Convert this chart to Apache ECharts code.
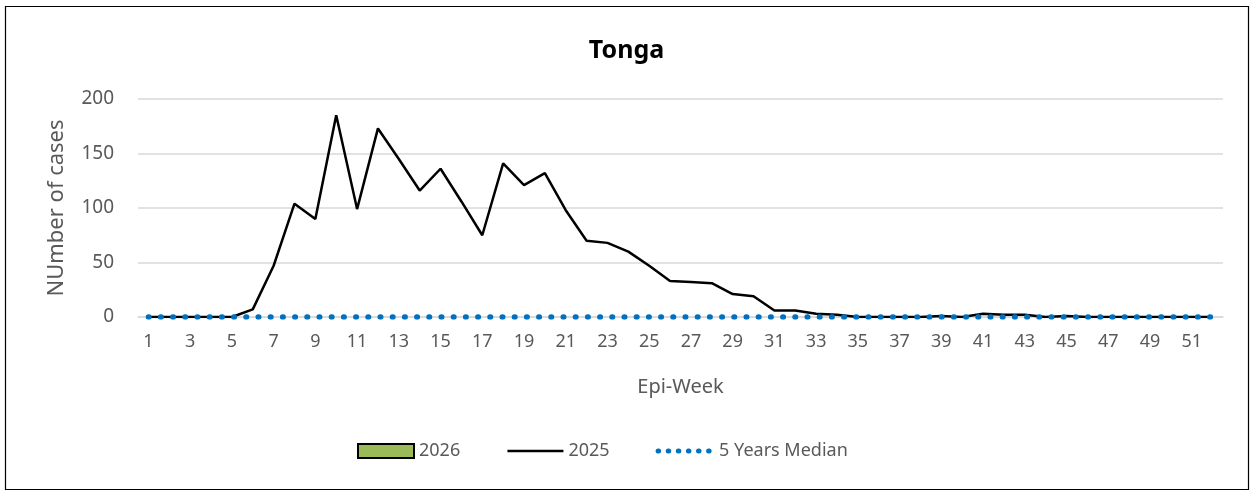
<!DOCTYPE html>
<html>
<head>
<meta charset="utf-8">
<script src="https://cdn.jsdelivr.net/npm/echarts@6/dist/echarts.min.js"></script>
<style>
html, body { margin: 0; padding: 0; background: #fff; }
#main { width: 1253px; height: 495px; }
</style>
</head>
<body>
<div id="main"></div>
<script>
// epi weeks 1..52
var weeks = [];
for (var w = 1; w <= 52; w++) weeks.push(String(w));

var cases2026 = [];
var cases2025 = [0, 0, 0, 0, 0, 7, 47, 104, 90, 185,
	99, 173, 145, 116, 136, 106, 75, 141, 121, 132,
	98, 70, 68, 60, 47, 33, 32, 31, 21, 19,
	6, 6, 3, 2, 0, 0, 0, 0, 1, 0,
	3, 2, 2, 0, 1, 0, 0, 0, 0, 0,
	0, 0];
var median5y = [0, 0, 0, 0, 0, 0, 0, 0, 0, 0,
	0, 0, 0, 0, 0, 0, 0, 0, 0, 0,
	0, 0, 0, 0, 0, 0, 0, 0, 0, 0,
	0, 0, 0, 0, 0, 0, 0, 0, 0, 0,
	0, 0, 0, 0, 0, 0, 0, 0, 0, 0,
	0, 0];

var font = 'Noto Sans';
var grey = '#595959';

var myChart = echarts.init(document.getElementById('main'));
var option = {
	backgroundColor: '#fff',
	animation: false,
	title: {
		text: 'Tonga',
		left: 'center',
		top: 33,
		textStyle: { fontFamily: font, fontSize: 25, fontWeight: 'bold', color: '#000' }
	},
	graphic: [{
		type: 'rect',
		shape: { x: 5.5, y: 6.5, width: 1243, height: 483 },
		style: { fill: 'none', stroke: '#000', lineWidth: 1.2 },
		silent: true
	}],
	legend: {
		left: 357,
		top: 442,
		padding: 0,
		itemWidth: 56,
		itemHeight: 14,
		itemGap: 46,
		textStyle: { fontFamily: font, fontSize: 18, color: grey },
		data: [
			{ name: '2026', icon: 'rect' },
			{
				name: '2025',
				itemStyle: { color: 'rgba(0,0,0,0)', borderWidth: 0 },
				lineStyle: { width: 2.5 }
			},
			{
				name: '5 Years Median',
				itemStyle: { color: 'rgba(0,0,0,0)', borderWidth: 0 },
				lineStyle: { width: 5, type: [0.5, 9.6], cap: 'round' }
			}
		]
	},
	grid: { left: 138, right: 30, top: 99, bottom: 178 },
	xAxis: {
		type: 'category',
		data: weeks,
		name: 'Epi-Week',
		nameLocation: 'middle',
		nameGap: 60,
		nameTextStyle: { fontFamily: font, fontSize: 20, color: grey },
		axisLine: { lineStyle: { color: '#d9d9d9', width: 1.5 } },
		axisTick: { show: false },
		axisLabel: { interval: 1, margin: 16, fontFamily: font, fontSize: 18, color: grey }
	},
	yAxis: {
		type: 'value',
		min: 0,
		max: 200,
		interval: 50,
		name: 'NUmber of cases',
		nameLocation: 'middle',
		nameGap: 70,
		nameTextStyle: { fontFamily: font, fontSize: 22, color: grey },
		axisLine: { show: false },
		axisTick: { show: false },
		axisLabel: { margin: 24, fontFamily: font, fontSize: 19, color: grey },
		splitLine: { lineStyle: { color: '#d9d9d9', width: 1.5 } }
	},
	series: [
		{
			name: '2026',
			type: 'bar',
			data: cases2026,
			itemStyle: { color: '#9bbb59', borderColor: '#000', borderWidth: 1.5 }
		},
		{
			name: '2025',
			type: 'line',
			data: cases2025,
			symbol: 'none',
			itemStyle: { color: '#000' },
			lineStyle: { color: '#000', width: 2.5 }
		},
		{
			name: '5 Years Median',
			type: 'line',
			data: median5y,
			symbol: 'none',
			itemStyle: { color: '#0070c0' },
			lineStyle: { color: '#0070c0', width: 5.5, type: [0.5, 11.7], cap: 'round' }
		}
	]
};
myChart.setOption(option);
</script>
</body>
</html>
